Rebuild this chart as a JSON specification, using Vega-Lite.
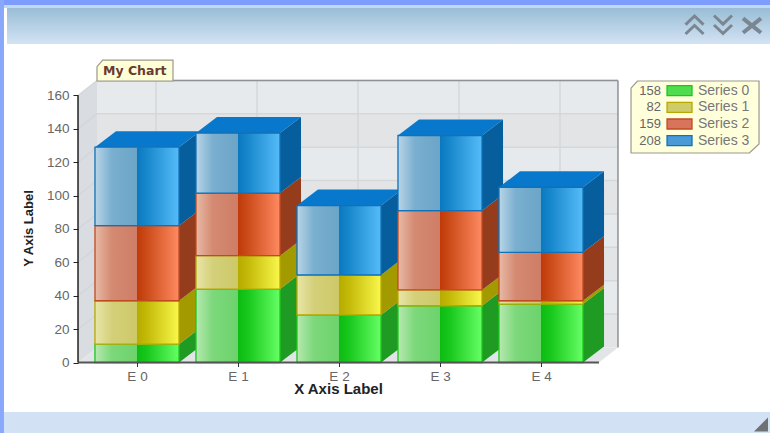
{
"$schema":"https://vega.github.io/schema/vega-lite/v6.json",
"width":770,"height":433,"padding":0,"autosize":{"type":"none"},"background":"#ffffff",
"config":{"view":{"stroke":null}},
"data":{"values":[{"panel":"frame"}]},
"resolve":{"scale":{"fill":"independent","stroke":"independent"},"axis":{"x":"independent","y":"independent"}},
"datasets":{
"bars":[
{"cat":0,"series":"Series 0","value":11},{"cat":0,"series":"Series 1","value":26},{"cat":0,"series":"Series 2","value":45},{"cat":0,"series":"Series 3","value":47},
{"cat":1,"series":"Series 0","value":44},{"cat":1,"series":"Series 1","value":20},{"cat":1,"series":"Series 2","value":37.5},{"cat":1,"series":"Series 3","value":36},
{"cat":2,"series":"Series 0","value":28.5},{"cat":2,"series":"Series 1","value":24},{"cat":2,"series":"Series 2","value":0},{"cat":2,"series":"Series 3","value":41.5},
{"cat":3,"series":"Series 0","value":34},{"cat":3,"series":"Series 1","value":9.5},{"cat":3,"series":"Series 2","value":47.5},{"cat":3,"series":"Series 3","value":45},
{"cat":4,"series":"Series 0","value":35},{"cat":4,"series":"Series 1","value":2},{"cat":4,"series":"Series 2","value":29},{"cat":4,"series":"Series 3","value":39}],
"totals":[{"series":"Series 0","total":158,"order":0},{"series":"Series 1","total":82,"order":1},{"series":"Series 2","total":159,"order":2},{"series":"Series 3","total":208,"order":3}],
"bands":[{"v":0},{"v":20},{"v":40},{"v":60},{"v":80},{"v":100},{"v":120},{"v":140}],
"grid":[{"v":20},{"v":40},{"v":60},{"v":80},{"v":100},{"v":120},{"v":140},{"v":160}],
"cats":[{"cat":0},{"cat":1},{"cat":2},{"cat":3},{"cat":4}]
},
"layer":[
{"mark":{"type":"rect","fill":"#ffffff"},"encoding":{
 "x":{"datum":-1.3564,"type":"quantitative","scale":{"domain":[-1.3564,6.2673],"nice":false,"zero":false},
  "axis":{"orient":"bottom","offset":-70.5,"values":[0,1,2,3,4],"labelExpr":"'E ' + datum.value","grid":false,"domain":false,"zindex":1,"tickColor":"#333333","tickSize":4,"labelColor":"#666666","labelFont":"Liberation Sans","labelFontSize":13.5,"labelPadding":3,"title":"X Axis Label","titleFont":"Liberation Sans","titleFontSize":15,"titleFontWeight":"bold","titleColor":"#222222","titleX":338,"titleY":26,"titleAlign":"center","titleBaseline":"middle"}},
 "x2":{"datum":6.2673},
 "y":{"datum":-42.24,"type":"quantitative","scale":{"domain":[-42.24,217.2],"nice":false,"zero":false},
  "axis":{"orient":"left","offset":-78,"values":[0,20,40,60,80,100,120,140,160],"grid":false,"domain":false,"zindex":1,"tickColor":"#222222","tickSize":5,"labelColor":"#666666","labelFont":"Liberation Sans","labelFontSize":13.5,"labelPadding":4,"title":"Y Axis Label","titleFont":"Liberation Sans","titleFontSize":13,"titleFontWeight":"bold","titleColor":"#222222","titleX":-50,"titleY":228,"titleAngle":270,"titleAlign":"center","titleBaseline":"middle"}},
 "y2":{"datum":217.2}}},
{"mark":{"type":"rect","fill":{"gradient":"linear","x1":0,"y1":0,"x2":0,"y2":1,"stops":[{"offset":0,"color":"#99bdd5"},{"offset":1,"color":"#d3e3f4"}]}},"encoding":{"x":{"datum":-1.287,"type":"quantitative","axis":null},"x2":{"datum":6.2673},"y":{"datum":212.4,"type":"quantitative","axis":null},"y2":{"datum":190.8}}},
{"mark":{"type":"rect","fill":"#d2e2f4"},"encoding":{"x":{"datum":-1.317,"type":"quantitative","axis":null},"x2":{"datum":6.2673},"y":{"datum":-29.66,"type":"quantitative","axis":null},"y2":{"datum":-42.24}}},
{"mark":{"type":"rect","fill":"#c4d6f6"},"encoding":{"x":{"datum":-1.3564,"type":"quantitative","axis":null},"x2":{"datum":6.2673},"y":{"datum":214.2,"type":"quantitative","axis":null},"y2":{"datum":212.4}}},
{"mark":{"type":"rect","fill":"#7c9dff"},"encoding":{"x":{"datum":-1.3564,"type":"quantitative","axis":null},"x2":{"datum":6.2673},"y":{"datum":217.2,"type":"quantitative","axis":null},"y2":{"datum":214.2}}},
{"mark":{"type":"rect","fill":"#8aa8fb"},"encoding":{"x":{"datum":-1.3564,"type":"quantitative","axis":null},"x2":{"datum":-1.317},"y":{"datum":217.2,"type":"quantitative","axis":null},"y2":{"datum":-42.24}}},
{"transform":[{"calculate":"[-0.584,-0.396]","as":"xs"},{"calculate":"[0,9]","as":"lo"},{"calculate":"[160,169]","as":"hi"},{"flatten":["xs","lo","hi"]}],
 "mark":{"type":"area","fill":"#d9dce0","opacity":1},"encoding":{"x":{"field":"xs","type":"quantitative","axis":null},"y":{"field":"lo","type":"quantitative","axis":null},"y2":{"field":"hi"}}},
{"transform":[{"calculate":"[-0.584,-0.396,4.574,4.762]","as":"xs"},{"calculate":"[0,0,0,9]","as":"lo"},{"calculate":"[0,9,9,9]","as":"hi"},{"flatten":["xs","lo","hi"]}],
 "mark":{"type":"area","fill":"#e2e5e8","opacity":1},"encoding":{"x":{"field":"xs","type":"quantitative","axis":null},"y":{"field":"lo","type":"quantitative","axis":null},"y2":{"field":"hi"}}},
{"data":{"name":"bands"},"transform":[{"calculate":"datum.v+9","as":"lo"},{"calculate":"datum.v+29","as":"hi"},{"calculate":"(datum.v/20)%2==0?'a':'b'","as":"tone"}],
 "mark":{"type":"rect"},"encoding":{"x":{"datum":-0.396,"type":"quantitative","axis":null},"x2":{"datum":4.762},"y":{"field":"lo","type":"quantitative","axis":null},"y2":{"field":"hi"},"fill":{"field":"tone","type":"nominal","legend":null,"scale":{"domain":["a","b"],"range":["#e2e4e6","#e7eaed"]}}}},
{"data":{"name":"grid"},"transform":[{"calculate":"datum.v+9","as":"gy"}],"mark":{"type":"rule","color":"#d6d7da","strokeWidth":1.5},"encoding":{"x":{"datum":-0.396,"type":"quantitative","axis":null},"x2":{"datum":4.762},"y":{"field":"gy","type":"quantitative","axis":null}}},
{"data":{"name":"cats"},"transform":[{"calculate":"datum.cat+0.188","as":"gx"}],"mark":{"type":"rule","color":"#d6d7da","strokeWidth":1.5},"encoding":{"x":{"field":"gx","type":"quantitative","axis":null},"y":{"datum":9,"type":"quantitative","axis":null},"y2":{"datum":169}}},
{"data":{"name":"grid"},"transform":[{"calculate":"[-0.584,-0.396]","as":"xs"},{"calculate":"[datum.v,datum.v+9]","as":"ys"},{"flatten":["xs","ys"]}],"mark":{"type":"line","color":"#d2d5d8","strokeWidth":1.2},"encoding":{"x":{"field":"xs","type":"quantitative","axis":null},"y":{"field":"ys","type":"quantitative","axis":null},"detail":{"field":"v"}}},
{"mark":{"type":"rule","color":"#8e9296","strokeWidth":1.5},"encoding":{"x":{"datum":-0.396,"type":"quantitative","axis":null},"x2":{"datum":4.762},"y":{"datum":169,"type":"quantitative","axis":null}}},
{"mark":{"type":"rule","color":"#8e9296","strokeWidth":1.5},"encoding":{"x":{"datum":4.762,"type":"quantitative","axis":null},"y":{"datum":9,"type":"quantitative","axis":null},"y2":{"datum":169}}},
{"data":{"name":"bars"},"transform":[{"stack":"value","groupby":["cat"],"sort":[{"field":"series","order":"ascending"}],"as":["y0","y1"]},{"calculate":"[datum.cat+0.416,datum.cat+0.624]","as":"xs"},{"calculate":"[0,9.6]","as":"k"},{"flatten":["xs","k"]},{"calculate":"datum.y0+datum.k","as":"lo"},{"calculate":"datum.y1+datum.k","as":"hi"}],
 "mark":{"type":"area","opacity":1},"encoding":{"x":{"field":"xs","type":"quantitative","axis":null},"y":{"field":"lo","type":"quantitative","axis":null},"y2":{"field":"hi"},"detail":{"field":"cat"},"fill":{"field":"series","type":"nominal","legend":null,"scale":{"domain":["Series 0","Series 1","Series 2","Series 3"],"range":["#1f9a22","#a39a00","#953c1c","#065f9c"]}}}},
{"data":{"name":"bars"},"transform":[{"stack":"value","groupby":["cat"],"sort":[{"field":"series","order":"ascending"}],"as":["y0","y1"]},{"filter":"datum.series=='Series 3'"},{"calculate":"[datum.cat-0.416,datum.cat-0.208,datum.cat+0.416,datum.cat+0.624]","as":"xs"},{"calculate":"[datum.y1,datum.y1,datum.y1,datum.y1+9.6]","as":"lo"},{"calculate":"[datum.y1,datum.y1+9.6,datum.y1+9.6,datum.y1+9.6]","as":"hi"},{"flatten":["xs","lo","hi"]}],
 "mark":{"type":"area","fill":"#0878cc","opacity":1},"encoding":{"x":{"field":"xs","type":"quantitative","axis":null},"y":{"field":"lo","type":"quantitative","axis":null},"y2":{"field":"hi"},"detail":{"field":"cat"}}},
{"data":{"name":"bars"},"transform":[{"stack":"value","groupby":["cat"],"sort":[{"field":"series","order":"ascending"}],"as":["y0","y1"]},{"filter":"datum.series=='Series 0'"},{"calculate":"datum.cat-0.416","as":"xl"},{"calculate":"datum.cat+0.416","as":"xr"}],
 "mark":{"type":"rect","strokeWidth":1.3,"stroke":"#18c818","fill":{"gradient":"linear","x1":0,"y1":0,"x2":1,"y2":0,"stops":[{"offset":0,"color":"#b6e9b0"},{"offset":0.2,"color":"#7dd87b"},{"offset":0.499,"color":"#6cd36c"},{"offset":0.5,"color":"#0dbb12"},{"offset":0.62,"color":"#18c81c"},{"offset":1,"color":"#66ff66"}]}},"encoding":{"x":{"field":"xl","type":"quantitative","axis":null},"x2":{"field":"xr"},"y":{"field":"y0","type":"quantitative","axis":null},"y2":{"field":"y1"}}},
{"data":{"name":"bars"},"transform":[{"stack":"value","groupby":["cat"],"sort":[{"field":"series","order":"ascending"}],"as":["y0","y1"]},{"filter":"datum.series=='Series 1'"},{"calculate":"datum.cat-0.416","as":"xl"},{"calculate":"datum.cat+0.416","as":"xr"}],
 "mark":{"type":"rect","strokeWidth":1.3,"stroke":"#b8a800","fill":{"gradient":"linear","x1":0,"y1":0,"x2":1,"y2":0,"stops":[{"offset":0,"color":"#e8e6a8"},{"offset":0.2,"color":"#d4d07a"},{"offset":0.499,"color":"#cdc968"},{"offset":0.5,"color":"#b6ab00"},{"offset":0.62,"color":"#c4ba08"},{"offset":1,"color":"#f9f84c"}]}},"encoding":{"x":{"field":"xl","type":"quantitative","axis":null},"x2":{"field":"xr"},"y":{"field":"y0","type":"quantitative","axis":null},"y2":{"field":"y1"}}},
{"data":{"name":"bars"},"transform":[{"stack":"value","groupby":["cat"],"sort":[{"field":"series","order":"ascending"}],"as":["y0","y1"]},{"filter":"datum.series=='Series 2'"},{"calculate":"datum.cat-0.416","as":"xl"},{"calculate":"datum.cat+0.416","as":"xr"}],
 "mark":{"type":"rect","strokeWidth":1.3,"stroke":"#c04a20","fill":{"gradient":"linear","x1":0,"y1":0,"x2":1,"y2":0,"stops":[{"offset":0,"color":"#e8baa6"},{"offset":0.2,"color":"#d48a72"},{"offset":0.499,"color":"#cf7d66"},{"offset":0.5,"color":"#bf3a08"},{"offset":0.62,"color":"#cc4c1a"},{"offset":1,"color":"#ff8a62"}]}},"encoding":{"x":{"field":"xl","type":"quantitative","axis":null},"x2":{"field":"xr"},"y":{"field":"y0","type":"quantitative","axis":null},"y2":{"field":"y1"}}},
{"data":{"name":"bars"},"transform":[{"stack":"value","groupby":["cat"],"sort":[{"field":"series","order":"ascending"}],"as":["y0","y1"]},{"filter":"datum.series=='Series 3'"},{"calculate":"datum.cat-0.416","as":"xl"},{"calculate":"datum.cat+0.416","as":"xr"}],
 "mark":{"type":"rect","strokeWidth":1.3,"stroke":"#1070b8","fill":{"gradient":"linear","x1":0,"y1":0,"x2":1,"y2":0,"stops":[{"offset":0,"color":"#b8d5e7"},{"offset":0.2,"color":"#7aafcf"},{"offset":0.499,"color":"#6ba5c8"},{"offset":0.5,"color":"#0a78c0"},{"offset":0.62,"color":"#1888cc"},{"offset":1,"color":"#56bcf9"}]}},"encoding":{"x":{"field":"xl","type":"quantitative","axis":null},"x2":{"field":"xr"},"y":{"field":"y0","type":"quantitative","axis":null},"y2":{"field":"y1"}}},
{"mark":{"type":"rule","color":"#555555","strokeWidth":2},"encoding":{"x":{"datum":-0.584,"type":"quantitative","axis":null},"x2":{"datum":4.574},"y":{"datum":0,"type":"quantitative","axis":null}}},
{"mark":{"type":"rule","color":"#222222","strokeWidth":1.5},"encoding":{"x":{"datum":-0.584,"type":"quantitative","axis":null},"y":{"datum":0,"type":"quantitative","axis":null},"y2":{"datum":160}}},
{"mark":{"type":"point","shape":"M-1,0.276L-1,-0.1L-0.85,-0.276L1,-0.276L1,0.276Z","size":5776,"filled":true,"fill":"#ffffd6","stroke":"#9a9a8c","strokeWidth":1.2,"opacity":1},"encoding":{"x":{"datum":-0.0198,"type":"quantitative","axis":null},"y":{"datum":174.95,"type":"quantitative","axis":null}}},
{"mark":{"type":"text","align":"left","baseline":"middle","font":"DejaVu Sans","fontWeight":"bold","fontSize":12.5,"color":"#6b3a32"},"encoding":{"x":{"datum":-0.337,"type":"quantitative","axis":null},"y":{"datum":174.65,"type":"quantitative","axis":null},"text":{"value":"My Chart"}}},
{"mark":{"type":"point","shape":"M-1,-0.45L-0.9,-0.5625L1,-0.5625L1,0.42L0.85,0.5625L-1,0.5625Z","size":16384,"filled":true,"fill":"#ffffdc","stroke":"#9a9a8c","strokeWidth":1.2,"opacity":1},"encoding":{"x":{"datum":5.525,"type":"quantitative","axis":null},"y":{"datum":147.1,"type":"quantitative","axis":null}}},
{"data":{"name":"totals"},"transform":[{"calculate":"162.9-10*datum.order","as":"ly"}],"mark":{"type":"text","align":"right","baseline":"middle","font":"Liberation Sans","fontSize":13,"color":"#666666"},"encoding":{"x":{"datum":5.188,"type":"quantitative","axis":null},"y":{"field":"ly","type":"quantitative","axis":null},"text":{"field":"total","type":"quantitative"}}},
{"data":{"name":"totals"},"transform":[{"calculate":"162.9-10*datum.order","as":"ly"}],"mark":{"type":"text","align":"left","baseline":"middle","font":"Liberation Sans","fontSize":14,"color":"#777777"},"encoding":{"x":{"datum":5.554,"type":"quantitative","axis":null},"y":{"field":"ly","type":"quantitative","axis":null},"text":{"field":"series","type":"nominal"}}},
{"data":{"name":"totals"},"transform":[{"calculate":"162.9-10*datum.order-3","as":"lo"},{"calculate":"162.9-10*datum.order+3","as":"hi"}],"mark":{"type":"rect","strokeWidth":1.3},"encoding":{"x":{"datum":5.248,"type":"quantitative","axis":null},"x2":{"datum":5.495},"y":{"field":"lo","type":"quantitative","axis":null},"y2":{"field":"hi"},
 "fill":{"field":"series","type":"nominal","legend":null,"scale":{"domain":["Series 0","Series 1","Series 2","Series 3"],"range":["#4fdc4f","#cfcb68","#d8745c","#4b9ad8"]}},
 "stroke":{"field":"series","type":"nominal","legend":null,"scale":{"domain":["Series 0","Series 1","Series 2","Series 3"],"range":["#18c818","#b8a800","#c04a20","#1070b8"]}}}},
{"mark":{"type":"point","shape":"M-1,-0.05L0,-1L1,-0.05M-1,1L0,0.05L1,1","size":324,"filled":false,"stroke":"#7a8793","strokeWidth":3,"opacity":1},"encoding":{"x":{"datum":5.52,"type":"quantitative","axis":null},"y":{"datum":202.2,"type":"quantitative","axis":null}}},
{"mark":{"type":"point","shape":"M-1,-1L0,-0.05L1,-1M-1,0.05L0,1L1,0.05","size":324,"filled":false,"stroke":"#7a8793","strokeWidth":3,"opacity":1},"encoding":{"x":{"datum":5.802,"type":"quantitative","axis":null},"y":{"datum":202.5,"type":"quantitative","axis":null}}},
{"mark":{"type":"point","shape":"M-1,-0.8L1,0.8M-1,0.8L1,-0.8","size":324,"filled":false,"stroke":"#7a8793","strokeWidth":4,"opacity":1},"encoding":{"x":{"datum":6.089,"type":"quantitative","axis":null},"y":{"datum":201.9,"type":"quantitative","axis":null}}},
{"mark":{"type":"point","shape":"M1,-1L1,1L-1,1Z","size":196,"filled":true,"fill":"#555555","opacity":0.8},"encoding":{"x":{"datum":6.178,"type":"quantitative","axis":null},"y":{"datum":-37.2,"type":"quantitative","axis":null}}}
]
}
